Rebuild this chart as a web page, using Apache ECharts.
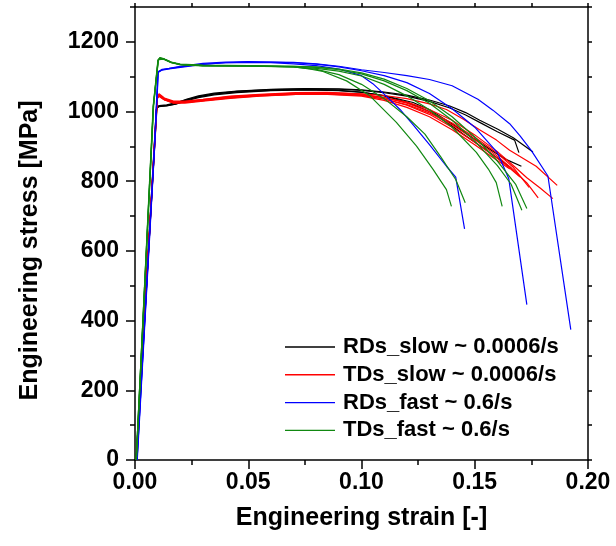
<!DOCTYPE html>
<html><head><meta charset="utf-8">
<script src="https://cdn.jsdelivr.net/npm/echarts@6/dist/echarts.min.js"></script>
<style>html,body{margin:0;padding:0;background:#fff}#c{width:616px;height:546px}</style>
</head><body><div id="c"></div>
<script>
// ---- tick labels ----
const xTicks = [0, 0.05, 0.10, 0.15, 0.20];
const yTicks = [0, 200, 400, 600, 800, 1000, 1200];

// ---- legend / group names ----
const groupNames = ['RDs_slow ~ 0.0006/s', 'TDs_slow ~ 0.0006/s', 'RDs_fast ~ 0.6/s', 'TDs_fast ~ 0.6/s'];

// ---- RDs_slow (black) : [strain, stress MPa] ----
const rdsSlow1 = [[0.0005,0],[0.0095,1008],[0.0105,1016],[0.014,1018],[0.018,1024],[0.023,1036],[0.028,1045],[0.035,1053],[0.045,1059],[0.06,1064],[0.075,1066],[0.09,1065],[0.1,1062],[0.11,1056],[0.12,1047],[0.13,1033],[0.139,1016],[0.146,997],[0.1522,975],[0.16,950],[0.167,925],[0.1757,884]];
const rdsSlow2 = [[0.0006,0],[0.0096,1010],[0.0106,1014],[0.014,1017],[0.018,1022],[0.023,1033],[0.028,1043],[0.035,1051],[0.045,1058],[0.06,1063],[0.075,1065],[0.09,1064],[0.1,1061],[0.11,1054],[0.12,1044],[0.13,1029],[0.139,1010],[0.146,990],[0.153,966],[0.16,942],[0.1676,918],[0.1695,882]];
const rdsSlow3 = [[0.0005,0],[0.0094,1006],[0.0104,1015],[0.014,1016],[0.018,1021],[0.023,1031],[0.028,1040],[0.035,1048],[0.045,1054],[0.06,1060],[0.075,1062],[0.09,1060],[0.1,1055],[0.11,1046],[0.1228,1026],[0.13,1005],[0.1375,975],[0.145,943],[0.152,912],[0.158,886],[0.164,862],[0.1706,843]];
const rdsSlow4 = [[0.0006,0],[0.0097,1012],[0.0107,1017],[0.014,1019],[0.018,1025],[0.023,1034],[0.028,1042],[0.035,1050],[0.045,1056],[0.06,1061],[0.075,1063],[0.09,1061],[0.1,1056],[0.11,1045],[0.12,1027],[0.13,1000],[0.1375,970],[0.145,935],[0.152,903],[0.158,876],[0.1661,838]];

// ---- TDs_slow (red) ----
const tdsSlow1 = [[0.0007,0],[0.0098,1038],[0.0106,1049],[0.013,1037],[0.017,1028],[0.022,1028],[0.03,1034],[0.042,1043],[0.055,1048],[0.071,1053],[0.085,1054],[0.1,1051],[0.11,1046],[0.12,1037],[0.13,1022],[0.1375,1006],[0.145,978],[0.1521,948],[0.1596,918],[0.1654,889],[0.1771,843],[0.1864,788]];
const tdsSlow2 = [[0.0006,0],[0.0099,1040],[0.0107,1046],[0.013,1034],[0.017,1025],[0.022,1026],[0.03,1031],[0.042,1040],[0.055,1046],[0.071,1050],[0.085,1051],[0.1,1048],[0.11,1040],[0.12,1027],[0.13,1006],[0.14,975],[0.15,933],[0.16,885],[0.167,845],[0.173,810],[0.179,780],[0.1845,750]];
const tdsSlow3 = [[0.0008,0],[0.0097,1035],[0.0105,1044],[0.013,1033],[0.017,1024],[0.022,1024],[0.03,1030],[0.042,1038],[0.055,1044],[0.071,1049],[0.085,1050],[0.1,1046],[0.11,1036],[0.12,1020],[0.13,996],[0.14,962],[0.15,920],[0.16,872],[0.167,833],[0.173,795],[0.178,752]];
const tdsSlow4 = [[0.0007,0],[0.0099,1042],[0.0106,1051],[0.013,1039],[0.017,1030],[0.022,1030],[0.03,1035],[0.042,1044],[0.055,1049],[0.071,1054],[0.085,1055],[0.1,1050],[0.11,1040],[0.12,1024],[0.13,1000],[0.14,967],[0.15,926],[0.16,880],[0.167,840],[0.174,782]];
const tdsSlow5 = [[0.0006,0],[0.0098,1039],[0.0106,1047],[0.013,1035],[0.017,1027],[0.022,1027],[0.03,1032],[0.042,1041],[0.055,1046],[0.071,1051],[0.085,1052],[0.1,1047],[0.11,1036],[0.12,1018],[0.13,992],[0.14,955],[0.15,912],[0.16,866],[0.165,840],[0.17,812]];
const tdsSlow6 = [[0.0007,0],[0.0097,1037],[0.0105,1045],[0.013,1034],[0.017,1026],[0.022,1026],[0.03,1031],[0.042,1039],[0.055,1045],[0.071,1049],[0.085,1049],[0.1,1044],[0.11,1032],[0.12,1012],[0.13,985],[0.14,948],[0.15,905],[0.158,868],[0.1655,835]];

// ---- RDs_fast (blue) ----
const rdsFast1 = [[0.0009,0],[0.0088,920],[0.0102,1112],[0.012,1120],[0.015,1123],[0.02,1128],[0.03,1136],[0.04,1140],[0.05,1141],[0.06,1140],[0.07,1137],[0.08,1132],[0.09,1122],[0.1,1103],[0.105,1080],[0.11,1050],[0.117,1006],[0.123,960],[0.13,905],[0.1375,843],[0.1416,812],[0.1455,663]];
const rdsFast2 = [[0.001,0],[0.0089,925],[0.0103,1115],[0.012,1121],[0.015,1124],[0.02,1130],[0.03,1138],[0.04,1142],[0.05,1143],[0.06,1142],[0.07,1140],[0.08,1136],[0.09,1128],[0.1,1117],[0.11,1103],[0.12,1083],[0.13,1052],[0.14,1008],[0.15,955],[0.16,882],[0.165,808],[0.173,446]];
const rdsFast3 = [[0.0009,0],[0.0087,918],[0.0101,1113],[0.012,1119],[0.015,1122],[0.02,1127],[0.03,1135],[0.04,1140],[0.05,1142],[0.06,1142],[0.07,1141],[0.08,1137],[0.09,1130],[0.1,1120],[0.11,1112],[0.12,1103],[0.13,1092],[0.14,1074],[0.1514,1035],[0.158,1004],[0.1654,965],[0.17,930],[0.175,888],[0.1823,815],[0.1924,374]];

// ---- TDs_fast (green) ----
const tdsFast1 = [[0.0005,0],[0.0081,1016],[0.0102,1148],[0.011,1155],[0.013,1151],[0.016,1142],[0.02,1136],[0.03,1133],[0.05,1132],[0.07,1128],[0.077,1122],[0.083,1115],[0.0934,1088],[0.1037,1045],[0.1154,969],[0.1243,901],[0.1316,834],[0.1375,776],[0.1397,728]];
const tdsFast2 = [[0.0006,0],[0.0082,1018],[0.0103,1147],[0.0112,1153],[0.013,1150],[0.016,1141],[0.02,1135],[0.03,1132],[0.05,1131],[0.07,1128],[0.08,1121],[0.09,1106],[0.1,1078],[0.11,1037],[0.12,985],[0.128,935],[0.135,870],[0.1416,805],[0.1458,738]];
const tdsFast3 = [[0.0005,0],[0.008,1014],[0.0101,1146],[0.011,1153],[0.013,1149],[0.016,1140],[0.02,1134],[0.03,1131],[0.05,1130],[0.07,1128],[0.08,1124],[0.09,1116],[0.1,1102],[0.11,1078],[0.12,1045],[0.13,1005],[0.14,955],[0.1507,883],[0.156,835],[0.1595,796],[0.1621,728]];
const tdsFast4 = [[0.0006,0],[0.0082,1017],[0.0103,1149],[0.0111,1154],[0.013,1150],[0.016,1141],[0.02,1135],[0.03,1132],[0.05,1131],[0.07,1130],[0.08,1127],[0.09,1120],[0.1,1108],[0.11,1088],[0.12,1060],[0.13,1024],[0.14,975],[0.15,915],[0.16,845],[0.166,792],[0.1708,717]];
const tdsFast5 = [[0.0005,0],[0.0081,1015],[0.0102,1147],[0.011,1154],[0.013,1150],[0.016,1141],[0.02,1135],[0.03,1132],[0.05,1131],[0.07,1130],[0.08,1128],[0.09,1122],[0.1,1111],[0.11,1093],[0.12,1066],[0.13,1031],[0.14,985],[0.15,927],[0.16,858],[0.168,792],[0.173,722]];

const groups = [
  { name: groupNames[0], color: '#000000', curves: [rdsSlow1, rdsSlow2, rdsSlow3, rdsSlow4] },
  { name: groupNames[1], color: '#ff0000', curves: [tdsSlow1, tdsSlow2, tdsSlow3, tdsSlow4, tdsSlow5, tdsSlow6] },
  { name: groupNames[2], color: '#0000ff', curves: [rdsFast1, rdsFast2, rdsFast3] },
  { name: groupNames[3], color: '#118811', curves: [tdsFast1, tdsFast2, tdsFast3, tdsFast4, tdsFast5] }
];

const FONT = '"Liberation Sans", Arial, Helvetica, sans-serif';
const series = [];
groups.forEach(g => {
  g.curves.forEach(c => {
    series.push({
      type: 'line', name: g.name, data: c, xAxisIndex: 0, yAxisIndex: 0,
      showSymbol: false, symbol: 'none', silent: true,
      lineStyle: { color: g.color, width: 1.2 }, itemStyle: { color: g.color }
    });
  });
});

const axisLineStyle = { color: '#000', width: 1.5 };
const chart = echarts.init(document.getElementById('c'), null, { renderer: 'canvas' });
chart.setOption({
  animation: false,
  backgroundColor: '#fff',
  grid: { left: 135, right: 28, top: 7, bottom: 86, containLabel: false },
  legend: {
    data: groupNames.map(n => ({ name: n, icon: 'rect' })), orient: 'vertical', left: 285, top: 336, padding: 0,
    itemWidth: 50, itemHeight: 1.4, itemGap: 5.8, selectedMode: false,
    textStyle: { fontFamily: FONT, fontSize: 22, fontWeight: 'bold', color: '#000', lineHeight: 22, padding: [0, 0, 0, 3] }
  },
  xAxis: [
    {
      type: 'value', position: 'bottom', min: xTicks[0], max: xTicks[xTicks.length - 1], interval: 0.05,
      axisLine: { show: true, onZero: false, lineStyle: axisLineStyle },
      axisTick: { show: true, inside: false, length: 9, lineStyle: axisLineStyle },
      minorTick: { show: true, splitNumber: 2, length: 5, lineStyle: axisLineStyle },
      splitLine: { show: false }, minorSplitLine: { show: false },
      axisLabel: { formatter: v => v.toFixed(2), fontFamily: FONT, fontSize: 23, fontWeight: 'bold', color: '#000', margin: 11 },
      name: 'Engineering strain [-]', nameLocation: 'middle', nameGap: 46,
      nameTextStyle: { fontFamily: FONT, fontSize: 25, fontWeight: 'bold', color: '#000' }
    },
    {
      type: 'value', position: 'top', min: 0, max: 0.2, interval: 0.025,
      axisLine: { show: true, onZero: false, lineStyle: axisLineStyle },
      axisTick: { show: true, inside: false, length: 4, lineStyle: axisLineStyle },
      axisLabel: { show: false }, splitLine: { show: false }
    }
  ],
  yAxis: [
    {
      type: 'value', position: 'left', min: 0, max: 1300, interval: 200,
      axisLine: { show: true, onZero: false, lineStyle: axisLineStyle },
      axisTick: { show: true, inside: false, length: 9, lineStyle: axisLineStyle, customValues: yTicks },
      splitLine: { show: false },
      axisLabel: { customValues: yTicks, formatter: v => String(Math.round(v)), fontFamily: FONT, fontSize: 23, fontWeight: 'bold', color: '#000', margin: 16 },
      name: 'Engineering stress [MPa]', nameLocation: 'middle', nameGap: 92,
      nameTextStyle: { fontFamily: FONT, fontSize: 25, fontWeight: 'bold', color: '#000', padding: [0, 34, 0, 0] }
    },
    {
      type: 'value', position: 'left', min: 0, max: 1300, interval: 100,
      axisLine: { show: false },
      axisTick: { show: true, inside: false, length: 5, lineStyle: axisLineStyle },
      axisLabel: { show: false }, splitLine: { show: false }
    },
    {
      type: 'value', position: 'right', min: 0, max: 1300, interval: 100,
      axisLine: { show: true, onZero: false, lineStyle: axisLineStyle },
      axisTick: { show: true, inside: false, length: 4, lineStyle: axisLineStyle },
      axisLabel: { show: false }, splitLine: { show: false }
    }
  ],
  series: series
});
</script></body></html>
